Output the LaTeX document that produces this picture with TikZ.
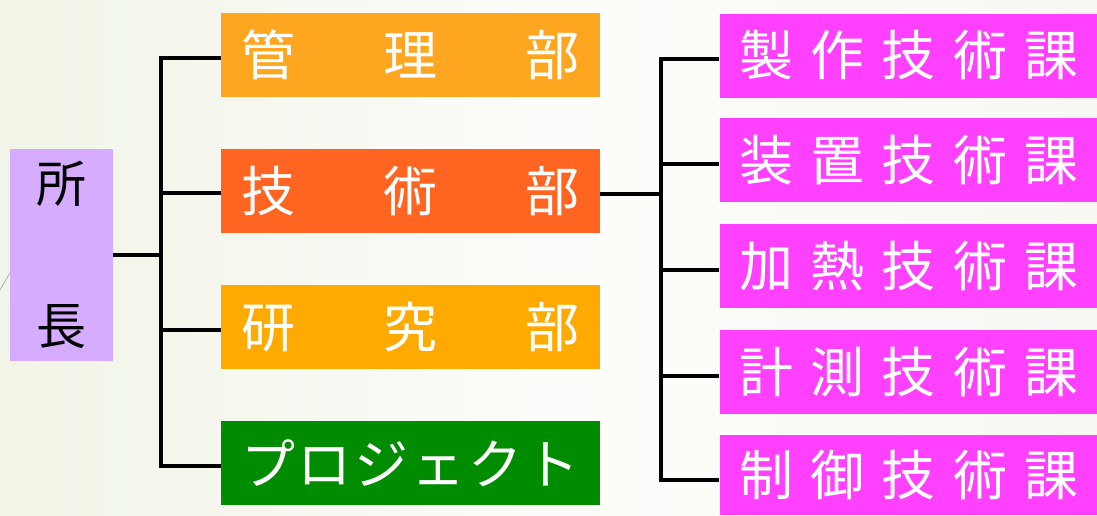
\documentclass[tikz,border=0pt]{standalone}
\usepackage{fontspec}
\newfontfamily\jp{Noto Sans CJK JP}
\definecolor{bgA}{RGB}{241,244,230}
\definecolor{bgB}{RGB}{248,248,243}
\definecolor{cPurple}{RGB}{213,172,255}
\definecolor{cOrangeA}{RGB}{255,166,32}
\definecolor{cOrangeRed}{RGB}{255,100,32}
\definecolor{cOrangeB}{RGB}{255,170,0}
\definecolor{cGreen}{RGB}{0,140,0}
\definecolor{cMagenta}{RGB}{255,64,255}
\tikzset{
  box/.style={draw=none, inner ysep=0pt, inner xsep=20pt, text width=339pt, align=left,
    minimum height=84pt, text=white, font=\jp\fontsize{54}{60}\selectfont},
  dept/.style={box, minimum width=379pt},
  sect/.style={box, minimum width=376pt},
  conn/.style={line width=4pt, black, line join=miter}
}
\begin{document}
\begin{tikzpicture}[x=1pt,y=-1pt]
\useasboundingbox (0,0) rectangle (1097,515);
\shade[left color=bgA, right color=bgB, middle color=white!60!bgB] (0,0) rectangle (1097,515);
\draw[gray!60, line width=0.8pt] (0,290) -- (14,266);
% head
\node[fill=cPurple, minimum width=103pt, minimum height=212pt, inner sep=0pt, align=center,
  font=\jp\fontsize{50}{142}\selectfont] (shocho) at (61.5,255) {所\\長};
% departments
\node[dept, fill=cOrangeA] (kanri) at (410.5,55) {管\hfill 理\hfill 部};
\node[dept, fill=cOrangeRed] (gijutsu) at (410.5,191) {技\hfill 術\hfill 部};
\node[dept, fill=cOrangeB] (kenkyu) at (410.5,327) {研\hfill 究\hfill 部};
\node[dept, fill=cGreen] (project) at (410.5,463) {プ\hfill ロ\hfill ジ\hfill ェ\hfill ク\hfill ト};
% sections
\node[sect, fill=cMagenta] (s1) at (909,55.5) {製\hfill 作\hfill 技\hfill 術\hfill 課};
\node[sect, fill=cMagenta] (s2) at (909,160) {装\hfill 置\hfill 技\hfill 術\hfill 課};
\node[sect, fill=cMagenta] (s3) at (909,266) {加\hfill 熱\hfill 技\hfill 術\hfill 課};
\node[sect, fill=cMagenta] (s4) at (909,372) {計\hfill 測\hfill 技\hfill 術\hfill 課};
\node[sect, fill=cMagenta, minimum height=80pt] (s5) at (909,475) {制\hfill 御\hfill 技\hfill 術\hfill 課};
% connectors
\coordinate (b1) at (161,255);
\coordinate (b2) at (661,194);
\draw[conn] (shocho.east) -- (b1);
\draw[conn] (b1) |- ([yshift=-3pt]kanri.west);
\draw[conn] (b1) |- ([yshift=-2pt]gijutsu.west);
\draw[conn] (b1) |- ([yshift=-3pt]kenkyu.west);
\draw[conn] (b1) |- ([yshift=-3pt]project.west);
\draw[conn] ([yshift=-3pt]gijutsu.east) -- (b2);
\draw[conn] (b2) |- ([yshift=-3pt]s1.west);
\draw[conn] (b2) |- ([yshift=-4pt]s2.west);
\draw[conn] (b2) |- ([yshift=-4pt]s3.west);
\draw[conn] (b2) |- ([yshift=-4pt]s4.west);
\draw[conn] (b2) |- ([yshift=-5pt]s5.west);
\end{tikzpicture}
\end{document}
